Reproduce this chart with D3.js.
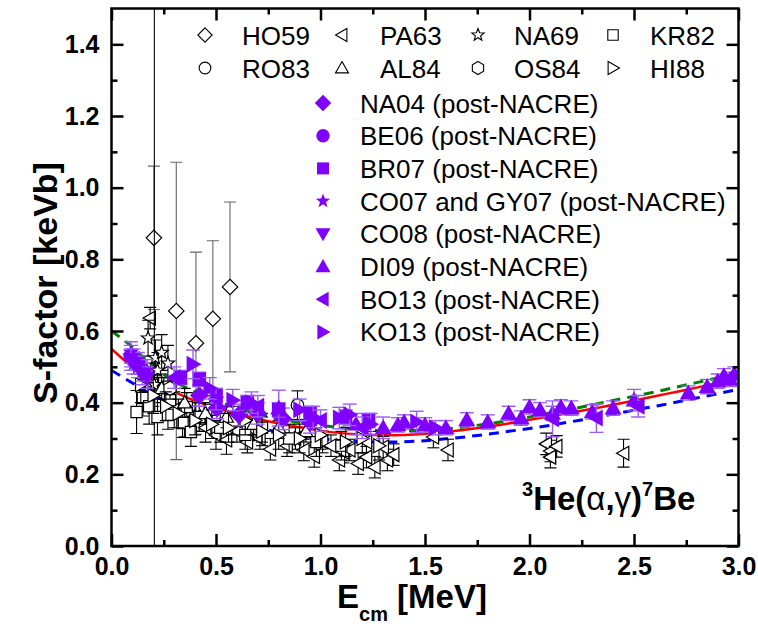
<!DOCTYPE html>
<html>
<head>
<meta charset="utf-8">
<script src="https://cdn.jsdelivr.net/npm/d3@7"></script>
<style>
  body { margin: 0; background: #fff; }
  text { font-family: 'Liberation Sans', Arial, sans-serif; }
</style>
</head>
<body>
<div id="chart"></div>
<script>
// ---- data: [E (MeV), S (keV b), error] ----
const ho59 = [[0.203, 0.86, 0.2], [0.31, 0.656, 0.415], [0.404, 0.566, 0.254], [0.485, 0.634, 0.218], [0.567, 0.723, 0.237]]
const pa63 = [[0.185, 0.636, 0.03], [0.2, 0.45, 0.06], [0.25, 0.42, 0.05], [0.3, 0.38, 0.05], [0.35, 0.345, 0.04],
  [0.4, 0.36, 0.04], [0.45, 0.33, 0.04], [0.5, 0.31, 0.04], [0.55, 0.296, 0.04], [0.6, 0.32, 0.03],
  [0.65, 0.29, 0.03], [0.68, 0.324, 0.03], [0.71, 0.3, 0.03], [0.76, 0.27, 0.03], [0.84, 0.28, 0.03],
  [0.88, 0.3, 0.03], [0.92, 0.268, 0.03], [0.97, 0.25, 0.03], [1.01, 0.29, 0.03], [1.05, 0.28, 0.03],
  [1.09, 0.24, 0.03], [1.11, 0.262, 0.03], [1.14, 0.268, 0.03], [1.18, 0.23, 0.03], [1.22, 0.29, 0.03],
  [1.22, 0.248, 0.03], [1.26, 0.22, 0.03], [1.3, 0.276, 0.03], [1.32, 0.24, 0.03], [1.35, 0.255, 0.03],
  [1.54, 0.304, 0.03], [1.61, 0.268, 0.03], [2.08, 0.285, 0.03], [2.1, 0.265, 0.03], [2.1, 0.248, 0.03],
  [2.13, 0.278, 0.03], [2.45, 0.259, 0.039]]
const na69 = [[0.175, 0.58, 0.05], [0.205, 0.45, 1.4], [0.21, 0.525, 0.05], [0.22, 0.49, 0.05], [0.24, 0.54, 0.05], [0.27, 0.51, 0.05]]
const kr82 = [[0.12, 0.374, 0.06], [0.15, 0.413, 0.05], [0.18, 0.39, 0.05], [0.22, 0.36, 0.05], [0.27, 0.366, 0.04],
  [0.28, 0.407, 0.04], [0.34, 0.343, 0.04], [0.36, 0.388, 0.04], [0.38, 0.318, 0.04], [0.42, 0.36, 0.04],
  [0.47, 0.38, 0.04], [0.52, 0.33, 0.04], [0.58, 0.35, 0.04], [0.64, 0.31, 0.04], [0.72, 0.33, 0.04],
  [0.85, 0.3, 0.04], [0.98, 0.29, 0.04], [1.1, 0.28, 0.04]]
const ro83 = [[0.89, 0.393, 0.04]]
const al84 = [[0.16, 0.47, 0.04], [0.24, 0.44, 0.04], [0.35, 0.4, 0.04], [0.45, 0.37, 0.03], [0.55, 0.36, 0.03],
  [0.68, 0.34, 0.03], [0.8, 0.33, 0.03], [0.93, 0.32, 0.03]]
const os84 = [[0.16, 0.47, 0.03], [0.28, 0.44, 0.03]]
const hi88 = [[0.14, 0.45, 0.05], [0.2, 0.42, 0.05], [0.26, 0.39, 0.04], [0.32, 0.37, 0.04], [0.4, 0.35, 0.04],
  [0.48, 0.34, 0.04], [0.56, 0.33, 0.04], [0.64, 0.35, 0.04], [0.72, 0.32, 0.04], [0.8, 0.31, 0.04],
  [0.9, 0.3, 0.04], [1.0, 0.31, 0.04], [1.12, 0.29, 0.04], [1.2, 0.3, 0.04], [1.28, 0.28, 0.04]]

const na04 = [[0.42, 0.42, 0.03], [0.505, 0.385, 0.03], [0.61, 0.366, 0.03], [0.7, 0.37, 0.03], [0.82, 0.355, 0.03], [0.95, 0.345, 0.03]]
const be06 = [[0.093, 0.53, 0.03], [0.106, 0.52, 0.03], [0.126, 0.51, 0.03]]
const br07 = [[0.33, 0.47, 0.02], [0.42, 0.465, 0.02], [0.5, 0.42, 0.02], [0.65, 0.4, 0.02], [0.8, 0.38, 0.02],
  [0.95, 0.37, 0.02], [1.12, 0.36, 0.02], [1.23, 0.35, 0.02]]
const co07 = [[0.093, 0.54, 0.03], [0.106, 0.51, 0.03], [0.126, 0.5, 0.03], [0.148, 0.49, 0.03], [0.17, 0.49, 0.03]]
const co08 = [[0.093, 0.52, 0.03], [0.106, 0.51, 0.02], [0.126, 0.5, 0.02], [0.148, 0.48, 0.03], [0.17, 0.47, 0.03]]
const di09 = [[0.8, 0.385, 0.05], [1.17, 0.34, 0.03], [1.3, 0.33, 0.03], [1.37, 0.338, 0.02], [1.4, 0.346, 0.02],
  [1.5, 0.338, 0.02], [1.6, 0.33, 0.02], [1.7, 0.352, 0.02], [1.8, 0.346, 0.02], [1.9, 0.37, 0.02],
  [1.96, 0.357, 0.02], [2.0, 0.388, 0.02], [2.05, 0.38, 0.02], [2.11, 0.37, 0.02], [2.15, 0.388, 0.02],
  [2.2, 0.385, 0.02], [2.3, 0.374, 0.02], [2.4, 0.385, 0.02], [2.5, 0.407, 0.03], [2.76, 0.427, 0.02],
  [2.85, 0.445, 0.02], [2.9, 0.46, 0.02], [2.93, 0.475, 0.02], [2.96, 0.465, 0.02], [2.98, 0.48, 0.02]]
const bo13 = [[0.3, 0.47, 0.03], [0.5, 0.41, 0.03], [0.7, 0.39, 0.03], [1.0, 0.35, 0.03], [1.2, 0.33, 0.03],
  [2.11, 0.355, 0.05], [2.32, 0.357, 0.04], [2.52, 0.39, 0.03]]
const ko13 = [[0.39, 0.507, 0.04], [0.47, 0.44, 0.03], [0.58, 0.407, 0.03], [0.67, 0.4, 0.03], [0.9, 0.38, 0.03],
  [0.965, 0.36, 0.03], [1.09, 0.357, 0.03], [1.14, 0.366, 0.03], [1.24, 0.34, 0.03], [1.46, 0.346, 0.03], [1.55, 0.33, 0.02]]

// fits
const fitE = [0.0, 0.1, 0.2, 0.3, 0.4, 0.5, 0.6, 0.7, 0.8, 0.9, 1.0, 1.1, 1.2, 1.3, 1.4, 1.5,
  1.6, 1.7, 1.8, 1.9, 2.0, 2.1, 2.2, 2.3, 2.4, 2.5, 2.6, 2.7, 2.8, 2.9, 3.0]
const fitRed = [0.55, 0.50, 0.46, 0.43, 0.405, 0.385, 0.37, 0.355, 0.342, 0.332, 0.322, 0.315, 0.311, 0.309, 0.31, 0.313,
  0.318, 0.325, 0.333, 0.342, 0.352, 0.362, 0.372, 0.383, 0.394, 0.406, 0.418, 0.43, 0.442, 0.455, 0.468]
const fitGreen = [0.60, 0.555, 0.50, 0.46, 0.43, 0.405, 0.385, 0.37, 0.355, 0.345, 0.337, 0.33, 0.325, 0.322, 0.322, 0.323,
  0.327, 0.333, 0.341, 0.35, 0.36, 0.371, 0.382, 0.394, 0.406, 0.418, 0.43, 0.443, 0.456, 0.469, 0.482]
const fitBlue = [0.49, 0.455, 0.42, 0.395, 0.375, 0.358, 0.342, 0.33, 0.318, 0.308, 0.30, 0.294, 0.291, 0.29, 0.291, 0.294,
  0.299, 0.305, 0.312, 0.32, 0.328, 0.337, 0.347, 0.357, 0.368, 0.379, 0.39, 0.401, 0.413, 0.425, 0.437]

const xTicks = [0.0, 0.5, 1.0, 1.5, 2.0, 2.5, 3.0]
const xMinor = [0.25, 0.75, 1.25, 1.75, 2.25, 2.75]
const yTicks = [0.0, 0.2, 0.4, 0.6, 0.8, 1.0, 1.2, 1.4]
const yMinor = [0.1, 0.3, 0.5, 0.7, 0.9, 1.1, 1.3]

// ---- layout ----
const margin = { top: 8.5, left: 111.5, right: 19.5, bottom: 89 }
const width = 758 - margin.left - margin.right
const height = 635 - margin.top - margin.bottom
const purple = '#8000ff'
const purpleErr = '#9b5cff'

const svg = d3.select('#chart').append('svg')
  .attr('width', 758).attr('height', 635)
  .append('g')
  .attr('transform', 'translate(' + margin.left + ',' + margin.top + ')')

const x = d3.scaleLinear().domain([0, 3]).range([0, width])
const y = d3.scaleLinear().domain([0, 1.5]).range([height, 0])

svg.append('clipPath').attr('id', 'plot-clip')
  .append('rect').attr('width', width).attr('height', height)

// custom marker shapes, size = half width
const shapes = {
  diamond: { draw(c, r) { r *= 1.1; c.moveTo(0, -r); c.lineTo(r, 0); c.lineTo(0, r); c.lineTo(-r, 0); c.closePath() } },
  circle: { draw(c, r) { r *= 0.9; c.moveTo(r, 0); c.arc(0, 0, r, 0, 2 * Math.PI) } },
  square: { draw(c, r) { const s = r * 0.8; c.rect(-s, -s, 2 * s, 2 * s) } },
  triUp: { draw(c, r) { c.moveTo(0, -r); c.lineTo(r, r * 0.75); c.lineTo(-r, r * 0.75); c.closePath() } },
  triDown: { draw(c, r) { c.moveTo(0, r); c.lineTo(r, -r * 0.75); c.lineTo(-r, -r * 0.75); c.closePath() } },
  triLeft: { draw(c, r) { c.moveTo(-r, 0); c.lineTo(r * 0.75, -r); c.lineTo(r * 0.75, r); c.closePath() } },
  triRight: { draw(c, r) { c.moveTo(r, 0); c.lineTo(-r * 0.75, -r); c.lineTo(-r * 0.75, r); c.closePath() } },
  star: { draw(c, r) {
    for (let i = 0; i < 10; i++) {
      const a = -Math.PI / 2 + i * Math.PI / 5
      const rr = i % 2 ? r * 0.42 : r
      if (i === 0) c.moveTo(rr * Math.cos(a), rr * Math.sin(a))
      else c.lineTo(rr * Math.cos(a), rr * Math.sin(a))
    }
    c.closePath()
  } },
  hexagon: { draw(c, r) {
    for (let i = 0; i < 6; i++) {
      const a = -Math.PI / 2 + i * Math.PI / 3
      if (i === 0) c.moveTo(r * Math.cos(a), r * Math.sin(a))
      else c.lineTo(r * Math.cos(a), r * Math.sin(a))
    }
    c.closePath()
  } }
}

const openSeries = [
  { name: 'HO59', shape: 'diamond', data: ho59, err: '#666' },
  { name: 'PA63', shape: 'triLeft', data: pa63 },
  { name: 'NA69', shape: 'star', data: na69 },
  { name: 'KR82', shape: 'square', data: kr82 },
  { name: 'RO83', shape: 'circle', data: ro83 },
  { name: 'AL84', shape: 'triUp', data: al84 },
  { name: 'OS84', shape: 'hexagon', data: os84 },
  { name: 'HI88', shape: 'triRight', data: hi88 }
]
const purpleSeries = [
  { name: 'NA04 (post-NACRE)', shape: 'diamond', data: na04 },
  { name: 'BE06 (post-NACRE)', shape: 'circle', data: be06 },
  { name: 'BR07 (post-NACRE)', shape: 'square', data: br07 },
  { name: 'CO07 and GY07 (post-NACRE)', shape: 'star', data: co07 },
  { name: 'CO08 (post-NACRE)', shape: 'triDown', data: co08 },
  { name: 'DI09 (post-NACRE)', shape: 'triUp', data: di09 },
  { name: 'BO13 (post-NACRE)', shape: 'triLeft', data: bo13 },
  { name: 'KO13 (post-NACRE)', shape: 'triRight', data: ko13 }
]

const plot = svg.append('g').attr('clip-path', 'url(#plot-clip)')

// fit curves
const fitLines = [
  { values: fitGreen, color: '#008000', dash: '10,7' },
  { values: fitBlue, color: '#0000ff', dash: '10,7' },
  { values: fitRed, color: '#ff0000', dash: null }
]
const line = d3.line().x(d => x(d[0])).y(d => y(d[1])).curve(d3.curveMonotoneX)
fitLines.forEach(f => {
  plot.append('path')
    .datum(fitE.map((e, i) => [e, f.values[i]]))
    .attr('d', line)
    .attr('fill', 'none')
    .attr('stroke', f.color)
    .attr('stroke-width', f.dash ? 3 : 2.5)
    .attr('stroke-dasharray', f.dash)
})

function drawSeries(list, opts) {
  list.forEach(s => {
    const g = plot.append('g').attr('class', 'series')
    const bars = g.selectAll('.err').data(s.data).enter().append('g')
    bars.append('line')
      .attr('x1', d => x(d[0])).attr('x2', d => x(d[0]))
      .attr('y1', d => y(d[1] - d[2])).attr('y2', d => y(d[1] + d[2]))
    bars.append('line')
      .attr('x1', d => x(d[0]) - opts.cap).attr('x2', d => x(d[0]) + opts.cap)
      .attr('y1', d => y(d[1] + d[2])).attr('y2', d => y(d[1] + d[2]))
    bars.append('line')
      .attr('x1', d => x(d[0]) - opts.cap).attr('x2', d => x(d[0]) + opts.cap)
      .attr('y1', d => y(d[1] - d[2])).attr('y2', d => y(d[1] - d[2]))
    bars.selectAll('line').attr('stroke', s.err || opts.errColor).attr('stroke-width', opts.errWidth)

    g.selectAll('.mark').data(s.data).enter().append('path')
      .attr('class', 'mark')
      .attr('transform', d => 'translate(' + x(d[0]) + ',' + y(d[1]) + ')')
      .attr('d', d3.symbol().type(shapes[s.shape]).size(opts.r))
      .attr('fill', opts.fill)
      .attr('stroke', opts.stroke)
      .attr('stroke-width', opts.strokeWidth)
  })
}

drawSeries(openSeries, { cap: 6, errColor: '#000', errWidth: 1.1, r: 7, fill: '#fff', stroke: '#000', strokeWidth: 1.2 })
drawSeries(purpleSeries, { cap: 7, errColor: purpleErr, errWidth: 1.4, r: 8.5, fill: purple, stroke: 'none', strokeWidth: 0 })

// ---- axes ----
const fmt = d3.format('.1f')
const xAxis = d3.axisBottom(x).tickValues(xTicks).tickSize(-12).tickSizeOuter(0).tickPadding(11).tickFormat(fmt)
const yAxis = d3.axisLeft(y).tickValues(yTicks).tickSize(-12).tickSizeOuter(0).tickPadding(12).tickFormat(fmt)

svg.append('g').attr('class', 'axis x-axis').attr('transform', 'translate(0,' + height + ')').call(xAxis)
svg.append('g').attr('class', 'axis').attr('transform', 'translate(0,' + height + ')')
  .call(d3.axisBottom(x).tickValues(xMinor).tickSize(-6).tickSizeOuter(0).tickFormat(''))
svg.append('g').attr('class', 'axis').call(d3.axisTop(x).tickValues(xTicks).tickSize(-12).tickSizeOuter(0).tickFormat(''))
svg.append('g').attr('class', 'axis').call(d3.axisTop(x).tickValues(xMinor).tickSize(-6).tickSizeOuter(0).tickFormat(''))

svg.append('g').attr('class', 'axis y-axis').call(yAxis)
svg.append('g').attr('class', 'axis').call(d3.axisLeft(y).tickValues(yMinor).tickSize(-6).tickSizeOuter(0).tickFormat(''))
svg.append('g').attr('class', 'axis').attr('transform', 'translate(' + width + ',0)')
  .call(d3.axisRight(y).tickValues(yTicks).tickSize(-12).tickSizeOuter(0).tickFormat(''))
svg.append('g').attr('class', 'axis').attr('transform', 'translate(' + width + ',0)')
  .call(d3.axisRight(y).tickValues(yMinor).tickSize(-6).tickSizeOuter(0).tickFormat(''))

svg.selectAll('.axis .domain').remove()
svg.selectAll('.axis line').attr('stroke', '#000').attr('stroke-width', 2.5)
svg.selectAll('.axis text')
  .attr('font-family', "'Liberation Sans', Arial, sans-serif")
  .attr('font-size', 25).attr('font-weight', 'bold').attr('fill', '#000')

svg.append('rect').attr('width', width).attr('height', height)
  .attr('fill', 'none').attr('stroke', '#000').attr('stroke-width', 2.5)

// axis titles
svg.append('text')
  .attr('transform', 'translate(' + (57 - margin.left) + ',' + (283 - margin.top) + ') rotate(-90)')
  .attr('text-anchor', 'middle')
  .attr('font-size', 34).attr('font-weight', 'bold')
  .text('S-factor [keVb]')

const xTitle = svg.append('text')
  .attr('x', 337 - margin.left).attr('y', 608 - margin.top)
  .attr('font-size', 33).attr('font-weight', 'bold')
xTitle.append('tspan').text('E')
xTitle.append('tspan').attr('font-size', 20).attr('dy', 13).text('cm')
xTitle.append('tspan').attr('dy', -13).text(' [MeV]')

// reaction label
const reac = svg.append('text')
  .attr('x', 522 - margin.left).attr('y', 510 - margin.top)
  .attr('font-size', 33).attr('font-weight', 'bold')
reac.append('tspan').attr('font-size', 20).attr('dy', -14).text('3')
reac.append('tspan').attr('dy', 14).text('He(')
reac.append('tspan').attr('font-weight', 'normal').text('α')
reac.append('tspan').text(',')
reac.append('tspan').attr('font-weight', 'normal').text('γ')
reac.append('tspan').text(')')
reac.append('tspan').attr('font-size', 20).attr('dy', -14).text('7')
reac.append('tspan').attr('dy', 14).text('Be')

// ---- legend ----
const legendSymX = [205, 342, 478, 613]
const legendTextX = [242, 380, 514, 650]
const legendRowY = [35, 68]
const leg = svg.append('g').attr('transform', 'translate(' + -margin.left + ',' + -margin.top + ')')
openSeries.forEach((s, i) => {
  const col = i % 4
  const row = Math.floor(i / 4)
  leg.append('path')
    .attr('transform', 'translate(' + legendSymX[col] + ',' + legendRowY[row] + ')')
    .attr('d', d3.symbol().type(shapes[s.shape]).size(6.5))
    .attr('fill', '#fff').attr('stroke', '#000').attr('stroke-width', 1.1)
  leg.append('text')
    .attr('x', legendTextX[col]).attr('y', legendRowY[row] + 9.5)
    .attr('font-size', 26)
    .text(s.name)
})
purpleSeries.forEach((s, i) => {
  const cy = 103 + i * 32.7
  leg.append('path')
    .attr('transform', 'translate(323,' + cy + ')')
    .attr('d', d3.symbol().type(shapes[s.shape]).size(7.5))
    .attr('fill', purple)
  leg.append('text')
    .attr('x', 360).attr('y', cy + 9.5)
    .attr('font-size', 26)
    .text(s.name)
})
</script>
</body>
</html>
